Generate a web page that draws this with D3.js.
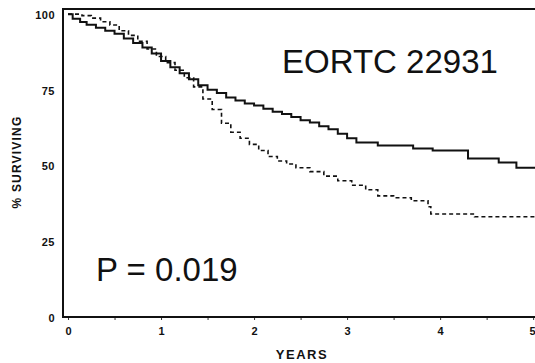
<!DOCTYPE html>
<html>
<head>
<meta charset="utf-8">
<script src="https://cdn.jsdelivr.net/npm/d3@7"></script>
<style>
  body { margin: 0; background: #fff; }
  svg { display: block; }
  text { font-family: "Liberation Sans", Arial, sans-serif; fill: #111; }
</style>
</head>
<body>
<div id="chart"></div>
<script>
// solid arm
const solidYears = [0, 0.05, 0.13, 0.2, 0.3, 0.4, 0.5, 0.6, 0.7, 0.8, 0.9, 1.0, 1.1, 1.2, 1.3, 1.4, 1.5, 1.6, 1.7, 1.8, 1.9, 2.0, 2.1, 2.2, 2.3, 2.4, 2.5, 2.6, 2.7, 2.8, 2.9, 3.0, 3.1, 3.33, 3.71, 3.92, 4.3, 4.63, 4.82, 5.05];
const solidSurv  = [100, 98.5, 97.4, 96.5, 95.5, 94.5, 93.5, 92, 90.5, 89, 87, 84.5, 82.5, 80.5, 78.5, 76.5, 75, 74, 72.5, 71.5, 70.5, 69.8, 68.8, 67.8, 67, 66, 65, 64.2, 63, 62, 60.5, 59, 57.6, 56.6, 55.6, 55, 52.3, 51, 49.3, 49.3];

// dashed arm
const dashYears = [0, 0.15, 0.25, 0.35, 0.45, 0.55, 0.65, 0.75, 0.85, 0.95, 1.05, 1.15, 1.25, 1.35, 1.45, 1.55, 1.65, 1.75, 1.85, 1.95, 2.05, 2.15, 2.25, 2.35, 2.45, 2.6, 2.75, 2.9, 3.05, 3.2, 3.33, 3.5, 3.69, 3.87, 3.9, 4.37, 5.05];
const dashSurv  = [100, 99.5, 98.7, 97.5, 96.4, 94.5, 93, 91, 88.5, 86, 84, 81.5, 79, 76, 72, 68.5, 64, 61, 59, 57, 55, 53, 51.5, 50.5, 49.3, 48, 46.5, 45, 43.5, 42, 40, 39.4, 38.4, 36.4, 34, 33.1, 33.1];

const xTicks = [0, 1, 2, 3, 4, 5];
const xMinor = [0.5, 1.5, 2.5, 3.5, 4.5];
const yTicks = [0, 25, 50, 75, 100];

const width = 535, height = 363;
const mLeft = 63, mRight = 535, mTop = 9, mBottom = 317;

const svg = d3.select("#chart").append("svg")
    .attr("width", width)
    .attr("height", height);

const x = d3.scaleLinear().domain([-0.054, 5.02]).range([mLeft, mRight]);
const y = d3.scaleLinear().domain([0, 101.7]).range([mBottom, mTop]);

// frame: top, left, bottom
svg.append("path")
    .attr("d", `M${mRight},${mTop}H${mLeft}V${mBottom}H${mRight}`)
    .attr("fill", "none")
    .attr("stroke", "#111")
    .attr("stroke-width", 2);

// x axis
const xAxis = svg.append("g")
    .attr("transform", `translate(0,${mBottom})`)
    .call(d3.axisBottom(x).tickValues(xTicks.concat(xMinor)).tickSize(3)
        .tickFormat(d => xTicks.includes(d) ? d : ""));
xAxis.select(".domain").remove();
xAxis.selectAll("line").attr("stroke", "#333").attr("y1", 1);
xAxis.selectAll("text")
    .attr("dy", "1.1em")
    .style("font-size", "11px")
    .style("font-weight", "bold")
    .style("font-family", "Liberation Sans, Arial, sans-serif");
// last label sits on the right edge
xAxis.selectAll(".tick").filter(d => d === 5).select("text")
    .attr("text-anchor", "end")
    .attr("x", 2);

// y axis
const yAxis = svg.append("g")
    .attr("transform", `translate(${mLeft},0)`)
    .call(d3.axisLeft(y).tickValues(yTicks).tickSize(0).tickPadding(8));
yAxis.select(".domain").remove();
yAxis.selectAll("text")
    .attr("dy", "0.4em")
    .style("font-size", "11px")
    .style("font-weight", "bold")
    .style("letter-spacing", "0.5px")
    .style("font-family", "Liberation Sans, Arial, sans-serif");

// axis titles
svg.append("text")
    .attr("x", 302).attr("y", 359)
    .attr("text-anchor", "middle")
    .style("font-size", "13px")
    .style("font-weight", "bold")
    .style("letter-spacing", "1.5px")
    .text("YEARS");

svg.append("text")
    .attr("transform", "translate(21,162) rotate(-90)")
    .attr("text-anchor", "middle")
    .style("font-size", "12px")
    .style("font-weight", "bold")
    .style("letter-spacing", "1.2px")
    .text("% SURVIVING");

// curves
const line = d3.line()
    .x(d => x(d[0]))
    .y(d => y(d[1]))
    .curve(d3.curveStepAfter);

svg.append("path")
    .datum(d3.zip(dashYears, dashSurv))
    .attr("d", line)
    .attr("fill", "none")
    .attr("stroke", "#111")
    .attr("stroke-width", 1.6)
    .attr("stroke-dasharray", "4,3");

svg.append("path")
    .datum(d3.zip(solidYears, solidSurv))
    .attr("d", line)
    .attr("fill", "none")
    .attr("stroke", "#111")
    .attr("stroke-width", 2);

// annotations
svg.append("text")
    .attr("x", 282).attr("y", 73)
    .style("font-size", "33px")
    .text("EORTC 22931");

svg.append("text")
    .attr("x", 96).attr("y", 281)
    .style("font-size", "33px")
    .text("P = 0.019");
</script>
</body>
</html>
